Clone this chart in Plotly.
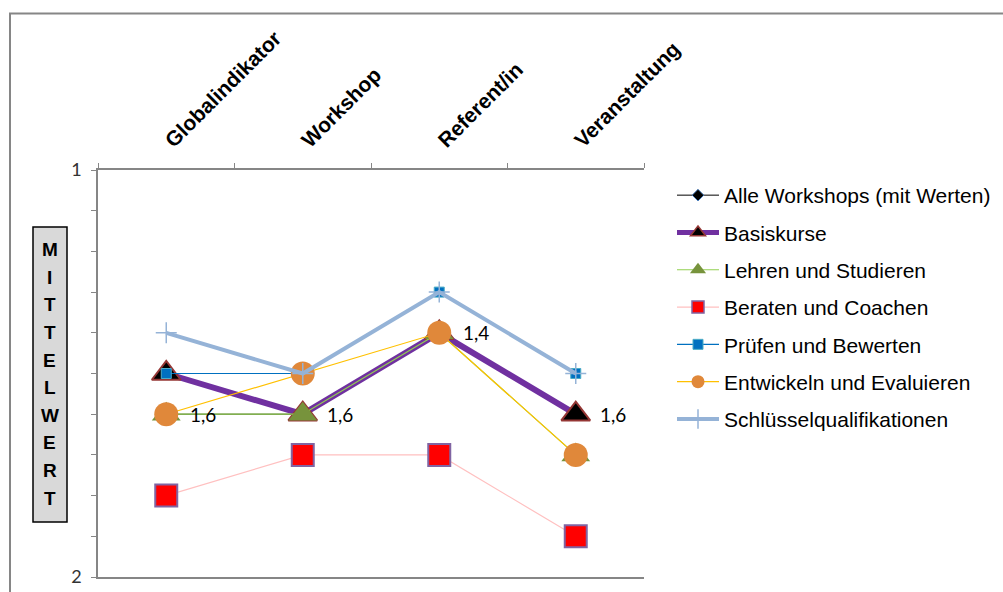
import plotly.graph_objects as go

categories = ["Globalindikator", "Workshop", "Referent/in", "Veranstaltung"]
alle_workshops = [1.6, 1.6, 1.4, 1.6]
basiskurse = [1.5, 1.6, 1.4, 1.6]
lehren = [1.6, 1.6, 1.4, 1.7]
beraten = [1.8, 1.7, 1.7, 1.9]
pruefen = [1.5, 1.5, 1.3, 1.5]
entwickeln = [1.6, 1.5, 1.4, 1.7]
schluessel = [1.4, 1.5, 1.3, 1.5]
y_title = "MITTELWERT"

W, H = 1003, 592
L, R, T, B = 98, 359, 170, 15
pw, ph = W - L - R, H - T - B

def px2x(px):
    return (px - L) / pw

def px2y(py):
    return (H - B - py) / ph

series = [
    dict(name="Alle Workshops (mit Werten)", y=alle_workshops, lc="#000000", lw=1,
         sym="diamond", ms=10, lms=9, mc="#000000", mlc="#4f81bd", mlw=1),
    dict(name="Basiskurse", y=basiskurse, lc="#7030a0", lw=6,
         sym="triangle-up", ms=25, lms=13, mc="#000000", mlc="#953735", mlw=2),
    dict(name="Lehren und Studieren", y=lehren, lc="#92d050", lw=1.2,
         sym="triangle-up", ms=25, lms=14, mc="#77933c", mlc="#77933c", mlw=0),
    dict(name="Beraten und Coachen", y=beraten, lc="#ffc0c0", lw=1.2,
         sym="square", ms=22, lms=12, mc="#ff0000", mlc="#8064a2", mlw=2),
    dict(name="Prüfen und Bewerten", y=pruefen, lc="#0070c0", lw=1.2,
         sym="square", ms=10, lms=10, mc="#0070c0", mlc="#4bacc6", mlw=1),
    dict(name="Entwickeln und Evaluieren", y=entwickeln, lc="#ffc000", lw=1.2,
         sym="circle", ms=24, lms=13, mc="#e0883a", mlc="#e0883a", mlw=0),
    dict(name="Schlüsselqualifikationen", y=schluessel, lc="#95b3d7", lw=4,
         sym="cross-thin", ms=15, lms=14, mc="#95b3d7", mlc="#95b3d7", mlw=1.5),
]

fig = go.Figure()
for s in series:
    fig.add_trace(go.Scatter(
        x=categories, y=s["y"], name=s["name"], mode="lines+markers",
        showlegend=False, cliponaxis=False,
        line=dict(color=s["lc"], width=s["lw"]),
        marker=dict(symbol=s["sym"], size=s["ms"], color=s["mc"],
                    line=dict(color=s["mlc"], width=s["mlw"])),
    ))
# legend entries (no data, only for the legend symbols)
for s in series:
    fig.add_trace(go.Scatter(
        x=[None], y=[None], name=s["name"], mode="lines+markers",
        legendgroup=s["name"], showlegend=True,
        line=dict(color=s["lc"], width=min(s["lw"], 5)),
        marker=dict(symbol=s["sym"], size=s["lms"], color=s["mc"],
                    line=dict(color=s["mlc"], width=min(s["mlw"], 1.5))),
    ))

annotations = []
for c, v in zip(categories, alle_workshops):
    annotations.append(dict(
        x=c, y=v, xref="x", yref="y", text=f"{v:.1f}".replace(".", ","),
        showarrow=False, xanchor="left", yanchor="middle", xshift=22,
        font=dict(family="Lato", size=19, color="#000000")))

# vertical stacked y-axis title
n = len(y_title)
top_c, bot_c = 249.7, 498.0
for i, ch in enumerate(y_title):
    yc = top_c + (bot_c - top_c) * i / (n - 1)
    annotations.append(dict(
        x=px2x(49.5), y=px2y(yc), xref="paper", yref="paper", text=f"<b>{ch}</b>",
        showarrow=False, xanchor="center", yanchor="middle",
        font=dict(family="Liberation Sans, Arial", size=19, color="#000000")))

shapes = [
    dict(type="rect", xref="paper", yref="paper",
         x0=px2x(33), x1=px2x(67), y0=px2y(522), y1=px2y(227),
         fillcolor="#d9d9d9", line=dict(color="#000000", width=1.5), layer="below"),
    dict(type="rect", xref="paper", yref="paper",
         x0=px2x(10), x1=px2x(1020), y0=px2y(610), y1=px2y(13.5),
         fillcolor="rgba(0,0,0,0)", line=dict(color="#868686", width=2), layer="below"),
]

fig.update_layout(
    width=W, height=H,
    margin=dict(l=L, r=R, t=T, b=B, pad=0, autoexpand=False),
    paper_bgcolor="white", plot_bgcolor="white",
    showlegend=True,
    legend=dict(x=px2x(672), y=px2y(175), xanchor="left", yanchor="top",
                font=dict(family="Liberation Sans, Arial", size=21, color="#000000"),
                traceorder="grouped", tracegroupgap=7, itemwidth=42,
                itemsizing="trace", bgcolor="rgba(0,0,0,0)"),
    xaxis=dict(type="category", side="top", range=[-0.5, 3.5], automargin=False,
               showline=True, linecolor="#868686", linewidth=1.5, mirror=True,
               ticks="outside", ticklen=5, tickcolor="#868686", tickson="boundaries",
               tickangle=-45, showgrid=False, zeroline=False, ticklabelstandoff=8,
               tickfont=dict(family="Liberation Sans, Arial", size=21, color="#000000",
                             weight="bold")),
    yaxis=dict(range=[2, 1], tickvals=[1, 2], ticktext=["1", "2"], automargin=False,
               showline=True, linecolor="#868686", linewidth=1.5,
               ticks="outside", ticklen=5, tickcolor="#868686",
               minor=dict(dtick=0.1, tick0=1, ticks="outside", ticklen=5,
                          tickcolor="#868686", showgrid=False),
               showgrid=False, zeroline=False, ticklabelstandoff=6,
               tickfont=dict(family="Lato", size=18, color="#333333")),
    annotations=annotations,
    shapes=shapes,
)

fig.write_html("out.html")
